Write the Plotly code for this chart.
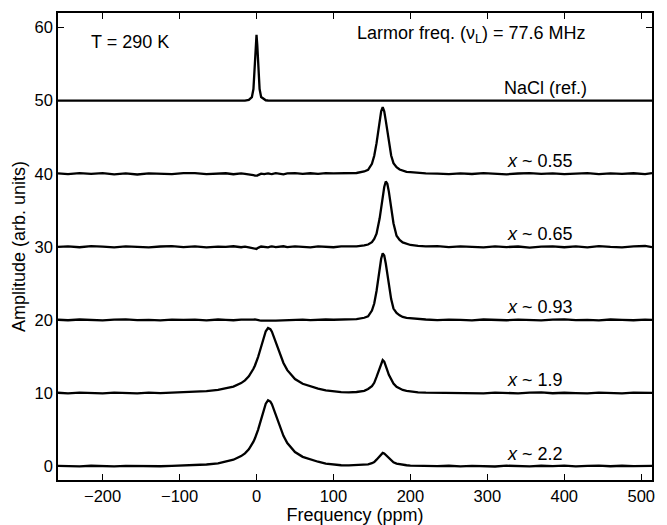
import plotly.graph_objects as go

# Shared frequency grid (ppm)
freq = [-258, -245, -230, -215, -200, -185, -170, -155, -140, -125, -110, -95, -80, -65, -50,
        -40, -30, -20, -15, -10, -6, -4, -2, -1, 0, 1, 2, 4, 6, 10, 12, 15, 18, 20, 25, 30, 35, 40,
        50, 60, 70, 80, 90, 100, 110, 120, 130, 140,
        145, 150, 153, 156, 158, 160, 162, 164, 166, 168, 170, 172, 175, 178, 182, 186, 190, 195, 200,
        210, 220, 235, 250, 265, 280, 295, 310, 325, 340, 355, 370, 385, 400, 415, 430, 445, 460, 475, 490, 505, 514]

# Amplitudes (arb. units), before vertical offset
amp_nacl = ([0] * 15 +
            [0, 0, 0, 0.02, 0.12, 0.5, 1.6, 5.0, 7.6, 9.0, 7.6, 5.0, 1.6, 0.5, 0.12, 0.06, 0.03, 0.01, 0, 0, 0, 0, 0] +
            [0] * 10 + [0] * 19 + [0] * 22)

amp_055 = ([0.05, -0.05, 0.1, 0.0, 0.08, -0.08, 0.05, -0.1, 0.06, 0.0, -0.05, 0.08, 0.1, -0.04, 0.03] +
           [0.07, -0.06, 0.05, 0.0, -0.05, -0.12, -0.2, -0.25, -0.28, -0.28, -0.25, -0.18, -0.08, 0.02, -0.05, 0.0, 0.06, -0.02, -0.04, 0.08, 0.0, -0.07, 0.05] +
           [0.1, -0.02, 0.07, 0.0, 0.08, 0.05, 0.1, 0.12, 0.11, 0.32] +
           [0.55, 1.37, 2.46, 4.19, 5.73, 7.28, 8.55, 9.1, 8.55, 7.28, 5.73, 4.19, 2.5, 1.46, 0.91, 0.59, 0.41, 0.27, 0.23] +
           [0.11, 0.06, 0.03, -0.06, 0.05, -0.03, 0.08, 0.0, -0.07, 0.04, 0.1, -0.02, 0.05, -0.06, 0.03, 0.08, -0.04, 0.05, 0.0, 0.07, -0.05, 0.1])

amp_065 = ([0.0, 0.08, -0.05, 0.1, 0.04, -0.06, 0.08, 0.0, -0.08, 0.05, 0.1, -0.03, 0.06, -0.07, 0.04] +
           [0.0, 0.08, -0.05, 0.03, -0.08, -0.14, -0.2, -0.28, -0.3, -0.28, -0.2, -0.12, -0.04, 0.05, 0.0, -0.03, -0.06, 0.02, 0.07, -0.03, 0.05, 0.08, -0.04] +
           [0.06, 0.0, -0.06, 0.08, 0.02, -0.05, 0.06, 0.04, 0.07, 0.2] +
           [0.32, 0.63, 1.08, 1.8, 2.7, 3.87, 5.31, 6.84, 8.19, 8.95, 8.64, 7.56, 5.31, 3.24, 1.53, 0.95, 0.61, 0.38, 0.26] +
           [0.14, 0.07, 0.1, -0.04, 0.06, 0.0, -0.08, 0.07, -0.03, 0.05, -0.1, 0.04, 0.08, -0.05, 0.06, -0.08, 0.1, 0.0, -0.06, 0.08, 0.12, -0.04])

amp_093 = ([0.03, -0.04, 0.06, 0.0, -0.05, 0.04, 0.07, -0.03, 0.02, -0.06, 0.05, 0.0, 0.04, -0.05, 0.06] +
           [0.0, -0.04, 0.05, 0.02, 0.0, -0.03, 0.04, 0.08, 0.05, 0.0, -0.04, -0.06, -0.05, -0.08, -0.1, -0.12, -0.12, -0.1, -0.1, -0.08, -0.05, -0.02, 0.03] +
           [0.0, 0.05, -0.03, 0.04, 0.06, 0.03, 0.08, 0.1, 0.1, 0.3] +
           [0.5, 1.29, 2.25, 3.96, 5.43, 7.0, 8.37, 9.1, 8.83, 7.73, 6.16, 4.6, 2.85, 1.56, 0.97, 0.63, 0.41, 0.28, 0.23] +
           [0.11, 0.06, -0.03, 0.05, 0.0, -0.05, 0.06, 0.02, -0.04, 0.05, 0.0, -0.06, 0.04, 0.07, -0.03, 0.02, -0.05, 0.06, 0.0, -0.04, 0.05, 0.0])

amp_19 = ([0.04, -0.05, 0.06, 0.0, -0.04, 0.05, 0.02, -0.05, 0.06, 0.0, 0.05, 0.1, 0.16, 0.26, 0.42] +
          [0.6, 0.88, 1.36, 1.73, 2.29, 2.92, 3.32, 3.77, 4.03, 4.31, 4.6, 4.92, 5.61, 6.36, 7.86, 8.45, 8.9, 8.74, 8.39, 6.97, 5.41, 4.11, 3.13] +
          [1.91, 1.26, 0.88, 0.6, 0.35, 0.2, 0.12, 0.1, 0.14, 0.3] +
          [0.55, 0.95, 1.4, 2.2, 2.8, 3.5, 4.2, 4.5, 4.3, 3.8, 3.1, 2.5, 1.8, 1.3, 0.85, 0.6, 0.42, 0.3, 0.2] +
          [0.1, 0.05, 0.04, -0.04, 0.05, 0.0, -0.05, 0.06, 0.0, -0.04, 0.05, 0.08, -0.03, 0.04, 0.0, -0.05, 0.06, 0.02, -0.04, 0.05, 0.0, 0.03])

amp_22 = ([0.03, 0.0, -0.04, 0.05, 0.0, -0.03, 0.04, 0.0, 0.05, -0.02, 0.04, 0.07, 0.12, 0.22, 0.38] +
          [0.58, 0.88, 1.37, 1.75, 2.31, 2.95, 3.35, 3.81, 4.07, 4.35, 4.65, 4.97, 5.67, 6.42, 7.94, 8.54, 9.0, 8.83, 8.47, 7.04, 5.46, 4.15, 3.16] +
          [1.93, 1.27, 0.89, 0.6, 0.35, 0.2, 0.12, 0.1, 0.12, 0.18] +
          [0.24, 0.4, 0.56, 0.88, 1.12, 1.4, 1.68, 1.8, 1.72, 1.52, 1.24, 1.0, 0.72, 0.52, 0.34, 0.24, 0.17, 0.12, 0.08] +
          [0.04, 0.02, 0.0, 0.05, -0.03, 0.04, 0.0, -0.05, 0.06, 0.02, -0.04, 0.05, 0.0, 0.06, -0.03, 0.04, 0.07, -0.02, 0.05, 0.0, -0.04, 0.03])

series_amps = [amp_nacl, amp_055, amp_065, amp_093, amp_19, amp_22]
offsets = [50, 40, 30, 20, 10, 0]
labels = ["NaCl (ref.)", "<i>x</i> ~ 0.55", "<i>x</i> ~ 0.65", "<i>x</i> ~ 0.93", "<i>x</i> ~ 1.9", "<i>x</i> ~ 2.2"]
label_y = [51.7, 41.7, 31.7, 21.8, 11.8, 1.7]
label_x = [319.5, 323, 323, 323, 323, 323]

x_ticks = [-200, -100, 0, 100, 200, 300, 400, 500]
y_ticks = [0, 10, 20, 30, 40, 50, 60]

FONT = "Liberation Sans, Arial, Helvetica, sans-serif"

fig = go.Figure()
for amp, off in zip(series_amps, offsets):
    assert len(amp) == len(freq)
    fig.add_trace(go.Scatter(
        x=freq, y=[off + a for a in amp], mode="lines",
        line=dict(color="black", width=2.3), showlegend=False, hoverinfo="skip"))

annotations = []
for lab, lx, ly in zip(labels, label_x, label_y):
    annotations.append(dict(x=lx, y=ly, xref="x", yref="y", text=lab, showarrow=False,
                            xanchor="left", yanchor="middle", font=dict(size=18, color="black", family=FONT)))
annotations.append(dict(x=-218, y=58.1, xref="x", yref="y", text="T = 290 K", showarrow=False,
                        xanchor="left", yanchor="middle", font=dict(size=18, color="black", family=FONT)))
annotations.append(dict(x=128.5, y=59.0, xref="x", yref="y", text="Larmor freq. (ν<sub>L</sub>) = 77.6 MHz",
                        showarrow=False, xanchor="left", yanchor="middle",
                        font=dict(size=18, color="black", family=FONT)))

axis_common = dict(showline=True, linecolor="black", linewidth=1.5, mirror="ticks",
                   ticks="inside", ticklen=6, tickwidth=1.3, tickcolor="black",
                   showgrid=False, zeroline=False, automargin=False,
                   tickfont=dict(size=16.5, color="black", family=FONT))

fig.update_layout(
    width=667, height=525,
    margin=dict(l=58, r=15, t=13, b=45),
    paper_bgcolor="white", plot_bgcolor="white",
    font=dict(family=FONT, color="black"),
    xaxis=dict(range=[-258, 514], tickvals=x_ticks, ticktext=[("\u2212" + str(-v)) if v < 0 else str(v) for v in x_ticks],
               title=dict(text="Frequency (ppm)", font=dict(size=18, color="black", family=FONT), standoff=0),
               **axis_common),
    yaxis=dict(range=[-1.9, 62], tickvals=y_ticks,
               title=dict(text="Amplitude (arb. units)", font=dict(size=18, color="black", family=FONT), standoff=4),
               **axis_common),
    annotations=annotations,
)

fig.write_html("out.html", config={"displayModeBar": False},
               post_script="document.body.style.margin='0';document.body.style.padding='0';")
